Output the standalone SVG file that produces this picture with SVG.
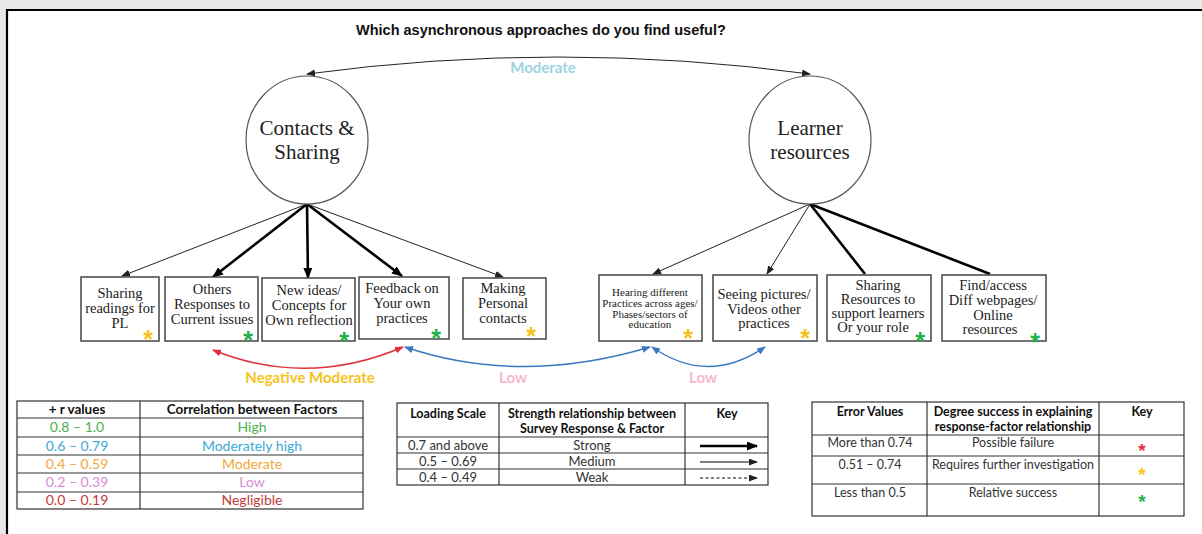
<svg xmlns="http://www.w3.org/2000/svg" width="1202" height="534" viewBox="0 0 1202 534">
  <style>
    .title { font-family: "Liberation Sans", Arial, sans-serif; font-weight: bold; font-size: 14.5px; fill: #111; }
    .factor { font-family: "Liberation Serif", "Times New Roman", serif; font-size: 21px; fill: #222; text-anchor: middle; }
    .item { font-family: "Liberation Serif", "Times New Roman", serif; font-size: 14.5px; fill: #222; text-anchor: middle; }
    .item-sm { font-family: "Liberation Serif", "Times New Roman", serif; font-size: 11px; fill: #222; text-anchor: middle; }
    .box { fill: #fff; stroke: #444; stroke-width: 1.5; }
    .circle { fill: #fff; stroke: #555; stroke-width: 1.2; }
    .thin { stroke: #222; stroke-width: 1; fill: none; }
    .thick { stroke: #000; stroke-width: 2.6; fill: none; }
    .star { font-family: "Liberation Sans", Arial, sans-serif; font-weight: bold; font-size: 25px; text-anchor: middle; }
    .star-sm { font-size: 19px; }
    .yellow { fill: #f7c31a; }
    .green { fill: #22b04a; }
    .red { fill: #e8333a; }
    .corr { font-family: "Lato", "Liberation Sans", sans-serif; font-weight: bold; font-size: 15px; text-anchor: middle; }
    .tbl { fill: #fff; stroke: #333; stroke-width: 1.2; }
    .grid { stroke: #333; stroke-width: 1.2; }
    .th { font-family: "Lato", "Liberation Sans", sans-serif; font-weight: bold; font-size: 12.5px; fill: #111; text-anchor: middle; }
    .th-lg { font-size: 13.5px; }
    .td { font-family: "Lato", "Liberation Sans", sans-serif; font-size: 13px; fill: #333; text-anchor: middle; }
    .td-lg { font-size: 14px; }
    .td-sm { font-size: 12.5px; }
    .r-high { fill: #4caf50; }
    .r-modhigh { fill: #3ea8d8; }
    .r-mod { fill: #eea83a; }
    .r-low { fill: #d98ad6; }
    .r-neg { fill: #c23a3a; }
  </style>
  <defs>
    <marker id="headThin" markerUnits="userSpaceOnUse" markerWidth="9" markerHeight="7" refX="8" refY="3.5" orient="auto">
      <path d="M0,0 L9,3.5 L0,7 z" fill="#222"/>
    </marker>
    <marker id="headThick" markerUnits="userSpaceOnUse" markerWidth="11" markerHeight="9" refX="10" refY="4.5" orient="auto">
      <path d="M0,0 L11,4.5 L0,9 z" fill="#000"/>
    </marker>
    <marker id="headThinStart" markerUnits="userSpaceOnUse" markerWidth="9" markerHeight="7" refX="1" refY="3.5" orient="auto">
      <path d="M9,0 L0,3.5 L9,7 z" fill="#222"/>
    </marker>
    <marker id="redEnd" markerUnits="userSpaceOnUse" markerWidth="9" markerHeight="7" refX="8" refY="3.5" orient="auto">
      <path d="M0,0 L9,3.5 L0,7 z" fill="#e0303a"/>
    </marker>
    <marker id="redStart" markerUnits="userSpaceOnUse" markerWidth="9" markerHeight="7" refX="1" refY="3.5" orient="auto">
      <path d="M9,0 L0,3.5 L9,7 z" fill="#e0303a"/>
    </marker>
    <marker id="blueEnd" markerUnits="userSpaceOnUse" markerWidth="9" markerHeight="7" refX="8" refY="3.5" orient="auto">
      <path d="M0,0 L9,3.5 L0,7 z" fill="#3a78c2"/>
    </marker>
    <marker id="blueStart" markerUnits="userSpaceOnUse" markerWidth="9" markerHeight="7" refX="1" refY="3.5" orient="auto">
      <path d="M9,0 L0,3.5 L9,7 z" fill="#3a78c2"/>
    </marker>
  </defs>

  <!-- page background and frame -->
  <rect x="0" y="0" width="1202" height="534" fill="#e8e8e8"/>
  <rect x="6" y="9" width="1196" height="525" fill="#fff"/>
  <line x1="7" y1="10" x2="1202" y2="10" stroke="#000" stroke-width="2.2"/>
  <line x1="7" y1="9" x2="7" y2="534" stroke="#000" stroke-width="2.2"/>

  <text class="title" x="356" y="35">Which asynchronous approaches do you find useful?</text>

  <!-- connectors -->
  <g id="connectors">
    <path class="thin" d="M307,74 Q558,40 810,74" marker-start="url(#headThinStart)" marker-end="url(#headThin)"/>
    <!-- Contacts & Sharing loadings -->
    <line class="thin" x1="307" y1="204" x2="122" y2="276" marker-end="url(#headThin)"/>
    <line class="thick" x1="307" y1="204" x2="213" y2="277" marker-end="url(#headThick)"/>
    <line class="thick" x1="307" y1="204" x2="308" y2="278" marker-end="url(#headThick)"/>
    <line class="thick" x1="307" y1="204" x2="402" y2="276" marker-end="url(#headThick)"/>
    <line class="thin" x1="307" y1="204" x2="503" y2="277" marker-end="url(#headThin)"/>
    <!-- Learner resources loadings -->
    <line class="thin" x1="810" y1="204" x2="653" y2="274" marker-end="url(#headThin)"/>
    <line class="thin" x1="810" y1="204" x2="767" y2="274" marker-end="url(#headThin)"/>
    <line class="thick" x1="810" y1="204" x2="865" y2="274"/>
    <line class="thick" x1="810" y1="204" x2="990" y2="274"/>
    <!-- correlations between items -->
    <path d="M213,350 Q307,388 403,347" fill="none" stroke="#e0303a" stroke-width="1.6" marker-start="url(#redStart)" marker-end="url(#redEnd)"/>
    <path d="M405,347 Q520,386 650,347" fill="none" stroke="#3a78c2" stroke-width="1.4" marker-start="url(#blueStart)" marker-end="url(#blueEnd)"/>
    <path d="M652,347 Q708,386 765,347" fill="none" stroke="#3a78c2" stroke-width="1.4" marker-start="url(#blueStart)" marker-end="url(#blueEnd)"/>
    <text class="corr" x="543" y="73" fill="#9dd3e2">Moderate</text>
    <text class="corr" x="310" y="383" fill="#f5c31c">Negative Moderate</text>
    <text class="corr" x="513" y="383" fill="#f4b8cc">Low</text>
    <text class="corr" x="703" y="383" fill="#f4b8cc">Low</text>
  </g>

  <!-- factors -->
  <g id="contacts-sharing">
    <ellipse class="circle" cx="307" cy="140" rx="61" ry="64"/>
    <text class="factor" x="307" y="135">Contacts &amp;</text>
    <text class="factor" x="307" y="159">Sharing</text>
  </g>
  <g id="learner-resources">
    <ellipse class="circle" cx="810" cy="140" rx="61" ry="64"/>
    <text class="factor" x="810" y="135">Learner</text>
    <text class="factor" x="810" y="159">resources</text>
  </g>

  <!-- survey items -->
  <g id="sharing-readings">
    <rect class="box" x="81" y="277" width="78" height="64"/>
    <text class="item" x="120" y="298">Sharing</text>
    <text class="item" x="120" y="313">readings for</text>
    <text class="item" x="120" y="328">PL</text>
    <text class="star yellow" x="148" y="348">*</text>
  </g>
  <g id="others-responses">
    <rect class="box" x="165" y="277" width="93" height="64"/>
    <text class="item" x="212" y="294">Others</text>
    <text class="item" x="212" y="309">Responses to</text>
    <text class="item" x="212" y="324">Current issues</text>
    <text class="star green" x="248" y="349">*</text>
  </g>
  <g id="new-ideas">
    <rect class="box" x="262" y="278" width="93" height="63"/>
    <text class="item" x="309" y="295">New ideas/</text>
    <text class="item" x="309" y="310">Concepts for</text>
    <text class="item" x="309" y="325">Own reflection</text>
    <text class="star green" x="344" y="350">*</text>
  </g>
  <g id="feedback">
    <rect class="box" x="359" y="277" width="90" height="62"/>
    <text class="item" x="402" y="293">Feedback on</text>
    <text class="item" x="402" y="308">Your own</text>
    <text class="item" x="402" y="323">practices</text>
    <text class="star green" x="436" y="347">*</text>
  </g>
  <g id="personal-contacts">
    <rect class="box" x="463" y="278" width="83" height="61"/>
    <text class="item" x="503" y="293">Making</text>
    <text class="item" x="503" y="308">Personal</text>
    <text class="item" x="503" y="323">contacts</text>
    <text class="star yellow" x="531" y="345">*</text>
  </g>
  <g id="hearing-practices">
    <rect class="box" x="599" y="275" width="103" height="66"/>
    <text class="item-sm" x="650" y="296">Hearing different</text>
    <text class="item-sm" x="650" y="307">Practices across ages/</text>
    <text class="item-sm" x="650" y="318">Phases/sectors of</text>
    <text class="item-sm" x="650" y="328">education</text>
    <text class="star yellow" x="688" y="347">*</text>
  </g>
  <g id="seeing-pictures">
    <rect class="box" x="713" y="275" width="104" height="66"/>
    <text class="item" x="764" y="299">Seeing pictures/</text>
    <text class="item" x="764" y="314">Videos other</text>
    <text class="item" x="764" y="328">practices</text>
    <text class="star yellow" x="805" y="347">*</text>
  </g>
  <g id="sharing-resources">
    <rect class="box" x="827" y="275" width="104" height="66"/>
    <text class="item" x="878" y="290">Sharing</text>
    <text class="item" x="878" y="304">Resources to</text>
    <text class="item" x="878" y="318">support learners</text>
    <text class="item" x="873" y="332">Or your role</text>
    <text class="star green" x="920" y="350">*</text>
  </g>
  <g id="find-access">
    <rect class="box" x="942" y="275" width="104" height="66"/>
    <text class="item" x="993" y="290">Find/access</text>
    <text class="item" x="993" y="305">Diff webpages/</text>
    <text class="item" x="993" y="320">Online</text>
    <text class="item" x="990" y="334">resources</text>
    <text class="star green" x="1035" y="351">*</text>
  </g>

  <!-- correlation legend -->
  <g id="legend-correlation">
    <rect class="tbl" x="17" y="401" width="346" height="108"/>
    <line class="grid" x1="140" y1="401" x2="140" y2="509"/>
    <line class="grid" x1="17" y1="418" x2="363" y2="418"/>
    <line class="grid" x1="17" y1="437" x2="363" y2="437"/>
    <line class="grid" x1="17" y1="455" x2="363" y2="455"/>
    <line class="grid" x1="17" y1="473" x2="363" y2="473"/>
    <line class="grid" x1="17" y1="492" x2="363" y2="492"/>
    <text class="th th-lg" x="77" y="414">+ r values</text>
    <text class="th th-lg" x="252" y="414">Correlation between Factors</text>
    <text class="td td-lg r-high" x="77" y="432">0.8 – 1.0</text>
    <text class="td td-lg r-high" x="252" y="432">High</text>
    <text class="td td-lg r-modhigh" x="77" y="451">0.6 – 0.79</text>
    <text class="td td-lg r-modhigh" x="252" y="451">Moderately high</text>
    <text class="td td-lg r-mod" x="77" y="469">0.4 – 0.59</text>
    <text class="td td-lg r-mod" x="252" y="469">Moderate</text>
    <text class="td td-lg r-low" x="77" y="487">0.2 – 0.39</text>
    <text class="td td-lg r-low" x="252" y="487">Low</text>
    <text class="td td-lg r-neg" x="77" y="505">0.0 – 0.19</text>
    <text class="td td-lg r-neg" x="252" y="505">Negligible</text>
  </g>

  <!-- loading legend -->
  <g id="legend-loading">
    <rect class="tbl" x="397" y="403" width="371" height="82"/>
    <line class="grid" x1="499" y1="403" x2="499" y2="485"/>
    <line class="grid" x1="685" y1="403" x2="685" y2="485"/>
    <line class="grid" x1="397" y1="437" x2="768" y2="437"/>
    <line class="grid" x1="397" y1="453" x2="768" y2="453"/>
    <line class="grid" x1="397" y1="469" x2="768" y2="469"/>
    <text class="th" x="448" y="418">Loading Scale</text>
    <text class="th" x="592" y="418">Strength relationship between</text>
    <text class="th" x="592" y="433">Survey Response &amp; Factor</text>
    <text class="th" x="727" y="418">Key</text>
    <text class="td" x="448" y="450">0.7 and above</text>
    <text class="td" x="592" y="450">Strong</text>
    <text class="td" x="448" y="466">0.5 – 0.69</text>
    <text class="td" x="592" y="466">Medium</text>
    <text class="td" x="448" y="482">0.4 – 0.49</text>
    <text class="td" x="592" y="482">Weak</text>
    <line x1="700" y1="446" x2="757" y2="446" stroke="#000" stroke-width="2.6" marker-end="url(#headThick)"/>
    <line x1="700" y1="462" x2="757" y2="462" stroke="#000" stroke-width="1.2" marker-end="url(#headThin)"/>
    <line x1="700" y1="478" x2="757" y2="478" stroke="#000" stroke-width="1" stroke-dasharray="3,2.5" marker-end="url(#headThin)"/>
  </g>

  <!-- error legend -->
  <g id="legend-error">
    <rect class="tbl" x="812" y="402" width="372" height="114"/>
    <line class="grid" x1="927" y1="402" x2="927" y2="516"/>
    <line class="grid" x1="1099" y1="402" x2="1099" y2="516"/>
    <line class="grid" x1="812" y1="435" x2="1184" y2="435"/>
    <line class="grid" x1="812" y1="456" x2="1184" y2="456"/>
    <line class="grid" x1="812" y1="484" x2="1184" y2="484"/>
    <text class="th" x="870" y="416">Error Values</text>
    <text class="th" x="1013" y="416">Degree success in explaining</text>
    <text class="th" x="1013" y="431">response-factor relationship</text>
    <text class="th" x="1142" y="416">Key</text>
    <text class="td td-sm" x="870" y="447">More than 0.74</text>
    <text class="td td-sm" x="1013" y="447">Possible failure</text>
    <text class="td td-sm" x="870" y="469">0.51 – 0.74</text>
    <text class="td td-sm" x="1013" y="469">Requires further investigation</text>
    <text class="td td-sm" x="870" y="497">Less than 0.5</text>
    <text class="td td-sm" x="1013" y="497">Relative success</text>
    <text class="star star-sm red" x="1142" y="457">*</text>
    <text class="star star-sm yellow" x="1142" y="481">*</text>
    <text class="star star-sm green" x="1142" y="508">*</text>
  </g>
</svg>
